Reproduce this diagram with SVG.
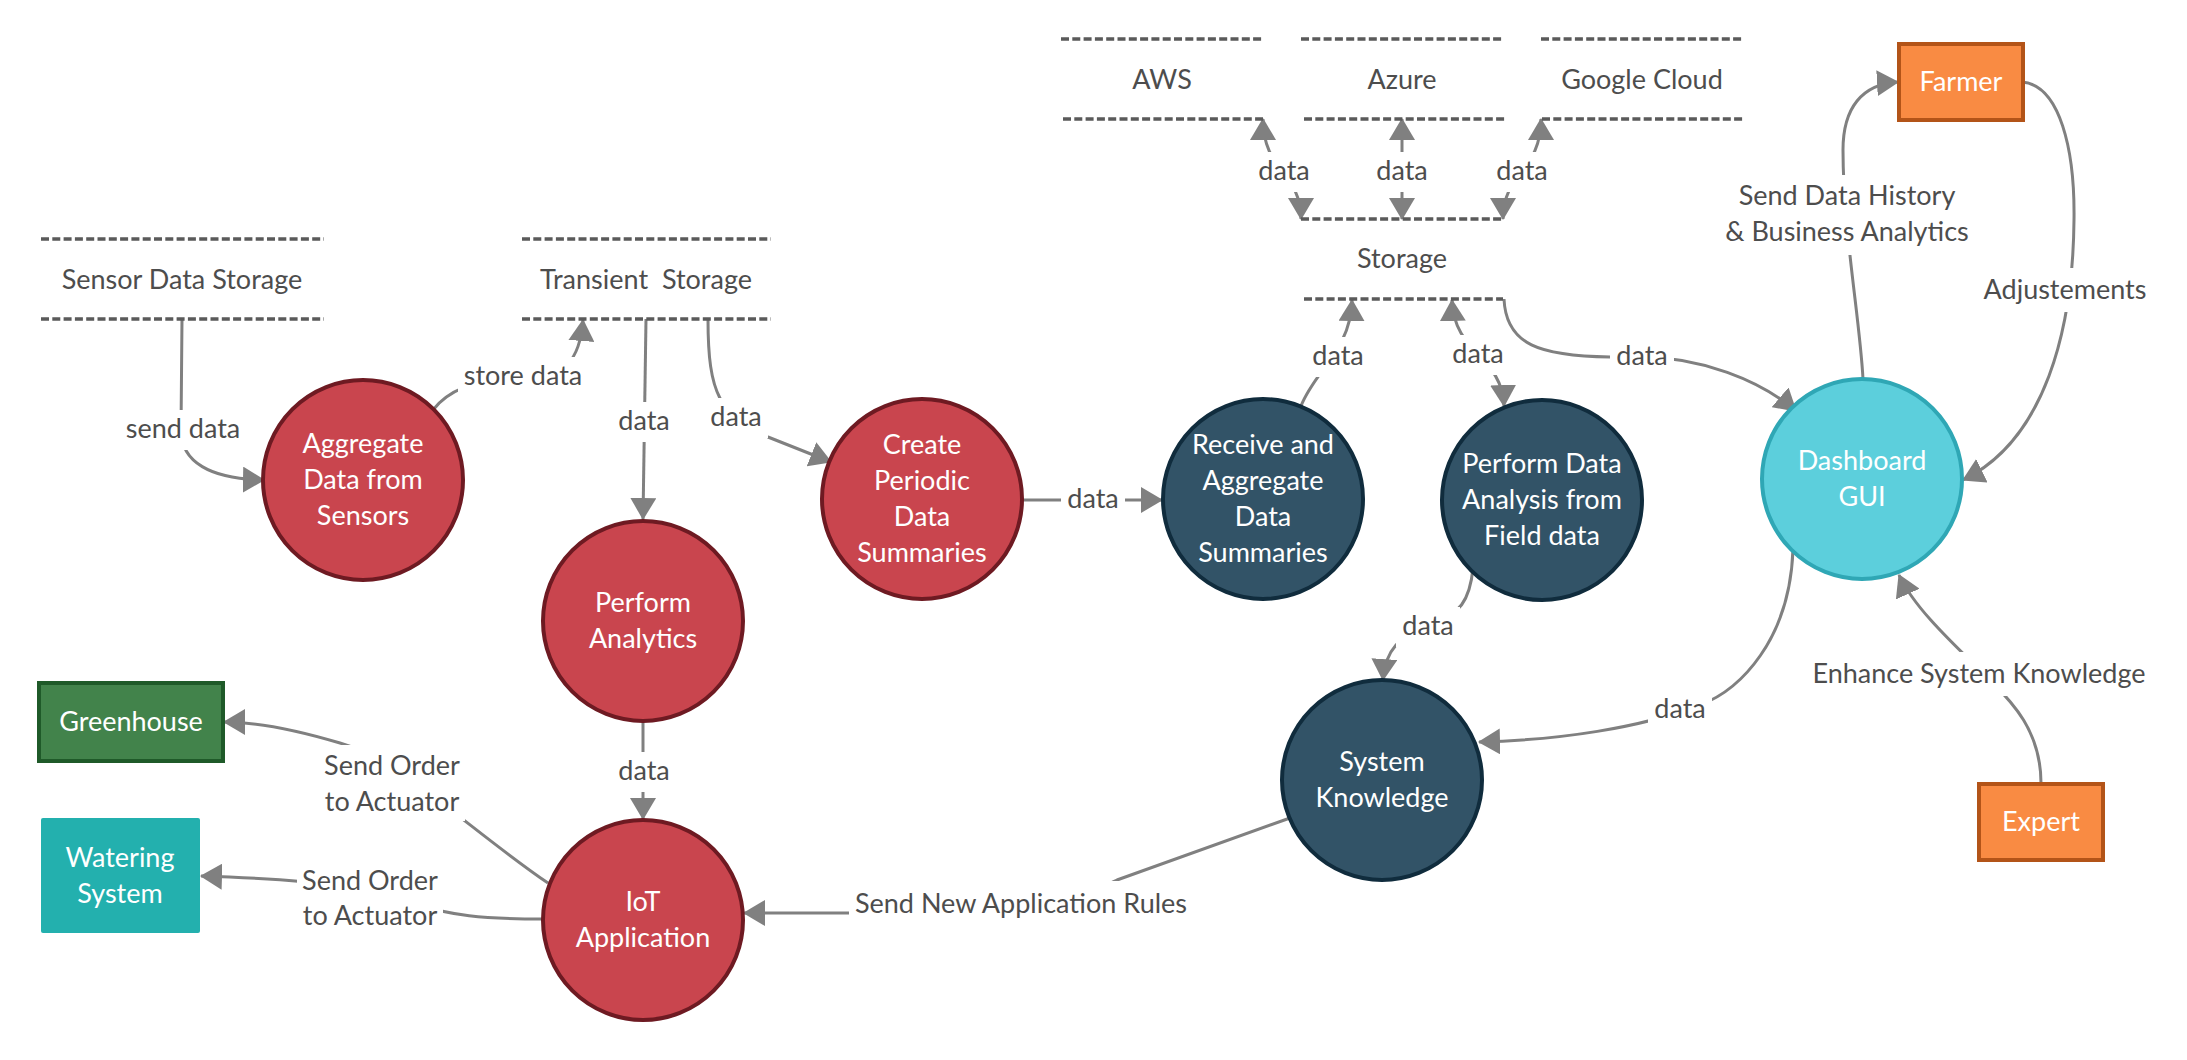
<svg xmlns="http://www.w3.org/2000/svg" width="2187" height="1060" viewBox="0 0 2187 1060">
<defs>
<marker id="ah" markerUnits="userSpaceOnUse" markerWidth="22" markerHeight="26" refX="21" refY="13" orient="auto-start-reverse" viewBox="0 0 22 26"><path d="M0,0 L22,13 L0,26 z" fill="#808080"/></marker>
<style>
text{font-family:Lato,"Liberation Sans",sans-serif;font-size:27px;text-anchor:middle}
.lbl{fill:#4d4d4d}
.nt{fill:#ffffff}
.bg{fill:#ffffff}
.ds{stroke:#5a5a5a;stroke-width:3.5;stroke-dasharray:8 3.3;fill:none}
.c{fill:none;stroke:#808080;stroke-width:3}
.a{marker-end:url(#ah)}
.b{marker-start:url(#ah);marker-end:url(#ah)}
.red{fill:#c9454e;stroke:#6e1a22;stroke-width:4}
.blue{fill:#325367;stroke:#102c3d;stroke-width:4}
.cyan{fill:#5ccfdc;stroke:#2fa7b5;stroke-width:4}
.orange{fill:#f98b43;stroke:#b35418;stroke-width:4}
.green{fill:#42834b;stroke:#1f5a29;stroke-width:4}
.teal{fill:#23b0ae}
</style>
</defs>
<rect width="2187" height="1060" fill="#ffffff"/>

<g id="connectors">
<path class="c a" d="M182,319 L181,430 C181,462 210,479 264,480"/>
<path class="c a" d="M433,410 C450,388 480,378 523,378 C565,378 580,360 583,320"/>
<path class="c a" d="M646,319 L643,519"/>
<path class="c a" d="M708,319 C708,395 720,415 768,437 L831,462"/>
<path class="c a" d="M1022,500 L1162,500"/>
<path class="c b" d="M1301,219 C1301,172 1263,172 1263,119"/>
<path class="c b" d="M1402,219 L1402,119"/>
<path class="c b" d="M1503,219 C1503,172 1541,172 1541,119"/>
<path class="c a" d="M1301,406 C1315,370 1351,350 1352,300"/>
<path class="c b" d="M1452,300 C1454,355 1502,355 1504,406"/>
<path class="c a" d="M1504,299 C1506,345 1540,356 1610,357 L1642,357 C1700,357 1760,380 1796,411"/>
<path class="c a" d="M1863,379 C1860,320 1843,230 1843,150 C1843,108 1862,84 1898,82"/>
<path class="c a" d="M2022,82 C2060,85 2075,150 2074,220 C2073,330 2045,440 1963,480"/>
<path class="c a" d="M1793,549 C1790,640 1740,690 1700,705 C1640,728 1560,740 1479,742"/>
<path class="c a" d="M2041,783 C2041,730 2010,700 1990,680 C1960,650 1915,610 1899,575"/>
<path class="c a" d="M1473,568 C1470,600 1460,615 1430,625 C1400,635 1385,650 1383,680"/>
<path class="c a" d="M643,721 L643,819"/>
<path class="c a" d="M548,883 C470,830 400,760 340,743 C290,728 255,722 224,722"/>
<path class="c a" d="M543,919 C480,919 450,915 420,905 C380,890 330,880 201,876"/>
<path class="c a" d="M1290,818 L1117,880 C1090,892 1060,913 1020,913 L744,913"/>

<rect class="bg" x="120" y="410" width="126" height="40"/>
<rect class="bg" x="458" y="357" width="131" height="40"/>
<rect class="bg" x="612" y="402" width="64" height="40"/>
<rect class="bg" x="704" y="398" width="64" height="40"/>
<rect class="bg" x="1061" y="480" width="64" height="40"/>
<rect class="bg" x="1252" y="152" width="64" height="40"/>
<rect class="bg" x="1370" y="152" width="64" height="40"/>
<rect class="bg" x="1490" y="152" width="64" height="40"/>
<rect class="bg" x="1306" y="337" width="64" height="40"/>
<rect class="bg" x="1446" y="335" width="64" height="40"/>
<rect class="bg" x="1610" y="337" width="64" height="40"/>
<rect class="bg" x="1720" y="175" width="254" height="80"/>
<rect class="bg" x="1978" y="268" width="173" height="44"/>
<rect class="bg" x="1808" y="652" width="342" height="44"/>
<rect class="bg" x="1648" y="690" width="64" height="40"/>
<rect class="bg" x="1396" y="607" width="64" height="40"/>
<rect class="bg" x="612" y="752" width="64" height="40"/>
<rect class="bg" x="319" y="745" width="146" height="76"/>
<rect class="bg" x="297" y="860" width="146" height="76"/>
<rect class="bg" x="849" y="881" width="343" height="44"/>

<text class="lbl" x="183" y="438">send data</text>
<text class="lbl" x="523" y="385">store data</text>
<text class="lbl" x="644" y="430">data</text>
<text class="lbl" x="736" y="426">data</text>
<text class="lbl" x="1093" y="508">data</text>
<text class="lbl" x="1284" y="180">data</text>
<text class="lbl" x="1402" y="180">data</text>
<text class="lbl" x="1522" y="180">data</text>
<text class="lbl" x="1338" y="365">data</text>
<text class="lbl" x="1478" y="363">data</text>
<text class="lbl" x="1642" y="365">data</text>
<text class="lbl" x="1847" y="205">Send Data History</text>
<text class="lbl" x="1847" y="241">&amp; Business Analytics</text>
<text class="lbl" x="2065" y="299">Adjustements</text>
<text class="lbl" x="1979" y="683">Enhance System Knowledge</text>
<text class="lbl" x="1680" y="718">data</text>
<text class="lbl" x="1428" y="635">data</text>
<text class="lbl" x="644" y="780">data</text>
<text class="lbl" x="392" y="775">Send Order</text>
<text class="lbl" x="392" y="811">to Actuator</text>
<text class="lbl" x="370" y="890">Send Order</text>
<text class="lbl" x="370" y="925">to Actuator</text>
<text class="lbl" x="1021" y="913">Send New Application Rules</text>
</g>

<g id="sensor-data-storage">
<line class="ds" x1="41" y1="239" x2="324" y2="239"/>
<line class="ds" x1="41" y1="319" x2="324" y2="319"/>
<text class="lbl" x="182" y="289">Sensor Data Storage</text>
</g>
<g id="transient-storage">
<line class="ds" x1="522" y1="239" x2="771" y2="239"/>
<line class="ds" x1="522" y1="319" x2="771" y2="319"/>
<text class="lbl" x="646" y="289" xml:space="preserve">Transient  Storage</text>
</g>
<g id="aws">
<line class="ds" x1="1061" y1="39" x2="1263" y2="39"/>
<line class="ds" x1="1063" y1="119" x2="1263" y2="119"/>
<text class="lbl" x="1162" y="89">AWS</text>
</g>
<g id="azure">
<line class="ds" x1="1301" y1="39" x2="1503" y2="39"/>
<line class="ds" x1="1304" y1="119" x2="1505" y2="119"/>
<text class="lbl" x="1402" y="89">Azure</text>
</g>
<g id="google-cloud">
<line class="ds" x1="1541" y1="39" x2="1742" y2="39"/>
<line class="ds" x1="1542" y1="119" x2="1744" y2="119"/>
<text class="lbl" x="1642" y="89">Google Cloud</text>
</g>
<g id="storage">
<line class="ds" x1="1301" y1="219" x2="1503" y2="219"/>
<line class="ds" x1="1304" y1="299" x2="1503" y2="299"/>
<text class="lbl" x="1402" y="268">Storage</text>
</g>

<g id="aggregate-data-from-sensors">
<circle class="red" cx="363" cy="480" r="100"/>
<text class="nt" x="363" y="453">Aggregate</text>
<text class="nt" x="363" y="489">Data from</text>
<text class="nt" x="363" y="525">Sensors</text>
</g>
<g id="perform-analytics">
<circle class="red" cx="643" cy="621" r="100"/>
<text class="nt" x="643" y="612">Perform</text>
<text class="nt" x="643" y="648">Analytics</text>
</g>
<g id="iot-application">
<circle class="red" cx="643" cy="920" r="100"/>
<text class="nt" x="643" y="911">IoT</text>
<text class="nt" x="643" y="947">Application</text>
</g>
<g id="create-periodic-data-summaries">
<circle class="red" cx="922" cy="499" r="100"/>
<text class="nt" x="922" y="454">Create</text>
<text class="nt" x="922" y="490">Periodic</text>
<text class="nt" x="922" y="526">Data</text>
<text class="nt" x="922" y="562">Summaries</text>
</g>
<g id="receive-and-aggregate-data-summaries">
<circle class="blue" cx="1263" cy="499" r="100"/>
<text class="nt" x="1263" y="454">Receive and</text>
<text class="nt" x="1263" y="490">Aggregate</text>
<text class="nt" x="1263" y="526">Data</text>
<text class="nt" x="1263" y="562">Summaries</text>
</g>
<g id="perform-data-analysis">
<circle class="blue" cx="1542" cy="500" r="100"/>
<text class="nt" x="1542" y="473">Perform Data</text>
<text class="nt" x="1542" y="509">Analysis from</text>
<text class="nt" x="1542" y="545">Field data</text>
</g>
<g id="system-knowledge">
<circle class="blue" cx="1382" cy="780" r="100"/>
<text class="nt" x="1382" y="771">System</text>
<text class="nt" x="1382" y="807">Knowledge</text>
</g>
<g id="dashboard-gui">
<circle class="cyan" cx="1862" cy="479" r="100"/>
<text class="nt" x="1862" y="470">Dashboard</text>
<text class="nt" x="1862" y="506">GUI</text>
</g>
<g id="farmer">
<rect class="orange" x="1899" y="44" width="124" height="76"/>
<text class="nt" x="1961" y="91">Farmer</text>
</g>
<g id="expert">
<rect class="orange" x="1979" y="784" width="124" height="76"/>
<text class="nt" x="2041" y="831">Expert</text>
</g>
<g id="greenhouse">
<rect class="green" x="39" y="683" width="184" height="78"/>
<text class="nt" x="131" y="731">Greenhouse</text>
</g>
<g id="watering-system">
<rect class="teal" x="41" y="818" width="159" height="115" rx="2"/>
<text class="nt" x="120" y="867">Watering</text>
<text class="nt" x="120" y="903">System</text>
</g>
</svg>
